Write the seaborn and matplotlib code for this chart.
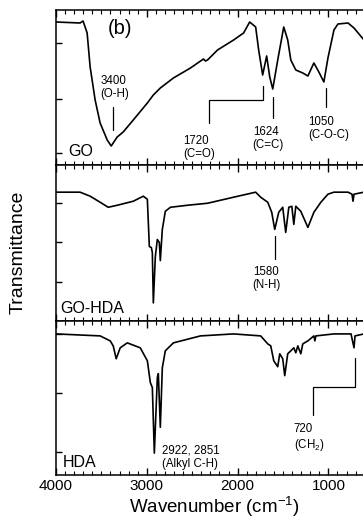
import matplotlib
matplotlib.use("Agg")
import matplotlib.pyplot as plt
from matplotlib.ticker import MultipleLocator, NullFormatter
import seaborn as sns
import numpy as np

sns.set_style("ticks")
plt.rcParams['font.family'] = ['Liberation Sans', 'DejaVu Sans']
plt.rcParams['mathtext.fontset'] = 'custom'
plt.rcParams['mathtext.rm'] = 'Liberation Sans'
for k in ['text.color', 'axes.labelcolor', 'xtick.color', 'ytick.color', 'axes.edgecolor']:
    plt.rcParams[k] = 'black'

# ---- data (wavenumber cm^-1, transmittance a.u.) ----
go_wn = [4000, 3735, 3702, 3657, 3624, 3569, 3514, 3436, 3392, 3326, 3260, 3149, 2994, 2928,
         2851, 2707, 2519, 2376, 2354, 2331, 2221, 2044, 1934, 1867, 1801, 1768, 1724, 1680,
         1646, 1613, 1558, 1492, 1448, 1414, 1359, 1282, 1226, 1160, 1105, 1050, 1005, 939,
         895, 784, 718, 608]
go_t = [143, 142, 144, 132, 98, 65, 42, 25, 19, 28, 33, 45, 62, 70,
        77, 87, 97, 106, 104, 105, 115, 125, 132, 143, 138, 115, 90, 109,
        88, 76, 105, 138, 125, 105, 95, 92, 89, 102, 93, 83, 107, 135,
        141, 142, 137, 125]

gohda_wn = [4000, 3735, 3624, 3514, 3425, 3326, 3149, 3039, 2994, 2972, 2950, 2939, 2928, 2906,
            2884, 2862, 2851, 2829, 2796, 2740, 2552, 2331, 2044, 1801, 1746, 1668, 1624, 1591,
            1547, 1503, 1470, 1436, 1403, 1381, 1359, 1304, 1226, 1160, 1083, 1005, 939, 784,
            740, 729, 718, 608]
gohda_t = [128, 128, 124, 118, 113, 115, 119, 124, 121, 74, 73, 68, 18, 64,
           81, 78, 60, 91, 109, 113, 115, 117, 123, 128, 123, 118, 108, 91,
           108, 113, 88, 113, 114, 96, 114, 109, 93, 108, 118, 126, 128, 128,
           126, 119, 126, 128]

hda_wn = [4000, 3514, 3403, 3370, 3337, 3293, 3215, 3072, 2994, 2961, 2939, 2917, 2884, 2873,
          2851, 2829, 2796, 2707, 2409, 2044, 1746, 1668, 1635, 1602, 1558, 1536, 1503, 1481,
          1448, 1414, 1381, 1359, 1337, 1304, 1282, 1226, 1160, 1149, 1138, 939, 751, 718,
          707, 608]
hda_t = [142, 140, 135, 130, 117, 128, 133, 128, 115, 93, 88, 22, 98, 102,
         48, 108, 125, 133, 140, 142, 140, 132, 130, 115, 109, 122, 117, 100,
         122, 125, 128, 123, 130, 122, 132, 135, 140, 135, 140, 142, 142, 128,
         140, 142]

sample_names = ["GO", "GO-HDA", "HDA"]
x_tick_values = [4000, 3000, 2000, 1000]
x_tick_labels = ["4000", "3000", "2000", "1000"]
panel_yticks = [[122, 66, 12], [117, 78, 39], [142, 83, 23]]

fig = plt.figure(figsize=(3.63, 5.25), dpi=100)
W, H = 363, 525
left_px, right_px = 56, 56 + 3600 * 0.0908
bounds = [(10, 165), (165, 321), (321, 475)]
axes = []
for (t, b) in bounds:
    ax = fig.add_axes([left_px / W, 1 - b / H, (right_px - left_px) / W, (b - t) / H])
    axes.append(ax)

series = [(go_wn, go_t), (gohda_wn, gohda_t), (hda_wn, hda_t)]
for ax, (wn, tt), yt in zip(axes, series, panel_yticks):
    sns.lineplot(x=wn, y=tt, ax=ax, color="black", lw=1.2, estimator=None, sort=False)
    ax.set_xlim(4000, 400)
    ax.set_ylim(0, 155)
    ax.xaxis.set_major_locator(MultipleLocator(1000))
    ax.xaxis.set_minor_locator(MultipleLocator(100))
    ax.set_yticks(yt)
    ax.yaxis.set_major_formatter(NullFormatter())
    ax.tick_params(axis="x", which="major", direction="in", top=True, bottom=True,
                   length=5, width=1.0, labelsize=11, pad=3)
    ax.tick_params(axis="x", which="minor", direction="in", top=True, bottom=True,
                   length=3, width=0.8)
    ax.tick_params(axis="y", which="major", direction="in", left=True, right=False,
                   length=4, width=1.0)
    for s in ax.spines.values():
        s.set_linewidth(1.1)
        s.set_color("black")
    ax.set_xlabel("")
    ax.set_ylabel("")

for ax in axes[:2]:
    ax.xaxis.set_major_formatter(NullFormatter())
axes[2].set_xticks(x_tick_values)
axes[2].set_xticklabels(x_tick_labels)

fs = 8.3
ls = 1.15
# top panel
a = axes[0]
a.text(3293, 137, "(b)", fontsize=14.5, ha="center", va="center")
a.text(3514, 90, "3400\n(O-H)", fontsize=fs, ha="left", va="top", linespacing=ls)
a.plot([3370, 3370], [58, 35], color="black", lw=0.9)
a.text(2597, 30, "1720\n(C=O)", fontsize=fs, ha="left", va="top", linespacing=ls)
a.plot([2320, 2320, 1724, 1724], [42, 65, 65, 79], color="black", lw=0.9)
a.text(1834, 39, "1624\n(C=C)", fontsize=fs, ha="left", va="top", linespacing=ls)
a.plot([1613, 1613], [68, 47], color="black", lw=0.9)
a.text(1226, 49, "1050\n(C-O-C)", fontsize=fs, ha="left", va="top", linespacing=ls)
a.plot([1028, 1028], [77, 58], color="black", lw=0.9)
a.text(3867, 6, sample_names[0], fontsize=11.5, ha="left", va="bottom")

# middle panel
a = axes[1]
a.text(1834, 55, "1580\n(N-H)", fontsize=fs, ha="left", va="top", linespacing=ls)
a.plot([1591, 1591], [84, 62], color="black", lw=0.9)
a.text(3956, 5, sample_names[1], fontsize=11.5, ha="left", va="bottom")

# bottom panel
a = axes[2]
a.text(1381, 52, "720\n(CH$_2$)", fontsize=fs, ha="left", va="top", linespacing=ls)
a.plot([1171, 1171, 707, 707], [60, 89, 89, 118], color="black", lw=0.9)
a.text(2829, 31, "2922, 2851\n(Alkyl C-H)", fontsize=fs, ha="left", va="top", linespacing=ls)
a.text(3923, 5, sample_names[2], fontsize=11.5, ha="left", va="bottom")

fig.text(18 / W, 1 - 252 / H, "Transmittance", rotation=90, fontsize=14,
         ha="center", va="center")
fig.text(214 / W, 1 - 507 / H, "Wavenumber (cm$^{-1}$)", fontsize=13.5,
         ha="center", va="center")

fig.savefig("out.png", dpi=100)
